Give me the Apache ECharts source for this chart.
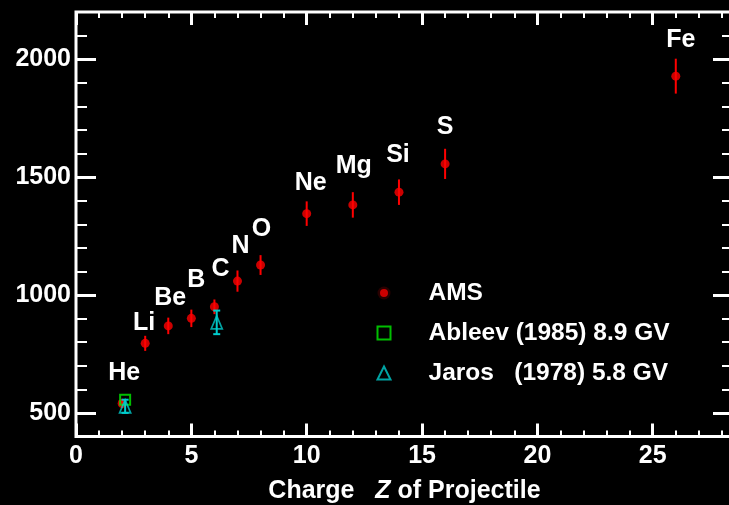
<!DOCTYPE html>
<html>
<head>
<meta charset="utf-8">
<script src="https://cdn.jsdelivr.net/npm/echarts@6/dist/echarts.min.js"></script>
<style>
  html, body { margin: 0; padding: 0; background: #000; }
  #chart { width: 729px; height: 505px; }
</style>
</head>
<body>
<div id="chart"></div>
<script>
// AMS measurements: element, charge Z, value and symmetric error
const elements = ['He', 'Li', 'Be', 'B', 'C', 'N', 'O', 'Ne', 'Mg', 'Si', 'S', 'Fe'];
const amsZ     = [2, 3, 4, 5, 6, 7, 8, 10, 12, 14, 16, 26];
const amsValue = [540, 795, 869, 901, 950, 1059, 1127, 1345, 1382, 1436, 1556, 1928];
const amsError = [20, 32, 35, 37, 31, 45, 42, 52, 54, 54, 64, 74];

// Ableev (1985) 8.9 GV
const ableevZ     = [2.13];
const ableevValue = [556];

// Jaros (1978) 5.8 GV
const jarosZ     = [2.13, 6.1];
const jarosValue = [528, 884];
const jarosError = [28, 50];

// Axis ticks
const yMajorTicks = [500, 1000, 1500, 2000];

const seriesNames = ['AMS', 'Ableev (1985) 8.9 GV', 'Jaros   (1978) 5.8 GV'];

// Pixel offsets of element names from their points
const nameOffsets = [[2, -30], [-1, -20], [2, -28], [5, -38], [6, -38], [3, -35],
                     [1, -36], [4, -31], [1, -39], [-1, -37], [0, -37], [5, -36]];

const FONT = '"Liberation Sans", Arial, Helvetica, sans-serif';
const WHITE = '#ffffff';
const RED = '#ff0000';
const GREEN = '#00ee00';
const CYAN = '#00cccc';

const X_MAX = 28.48;
const Y_MIN = 400, Y_MAX = 2200;

function xAxisDef(position, interval, tickLen, tickWidth, withLabels) {
  const ax = {
    type: 'value', position: position, min: 0, max: X_MAX, interval: interval,
    axisLine: { show: false, onZero: false },
    axisTick: { show: true, inside: true, length: tickLen, lineStyle: { color: WHITE, width: tickWidth } },
    axisLabel: { show: false },
    splitLine: { show: false }
  };
  if (withLabels) {
    ax.axisLabel = {
      show: true, color: WHITE, fontFamily: FONT, fontWeight: 'bold', fontSize: 25,
      margin: 7, showMaxLabel: false,
      formatter: function (v) { return String(v); }
    };
    ax.name = '{a|Charge   }{z|Z}{a| of Projectile}';
    ax.nameLocation = 'middle';
    ax.nameGap = 42;
    ax.nameTextStyle = {
      rich: {
        a: { color: WHITE, fontFamily: FONT, fontWeight: 'bold', fontSize: 25 },
        z: { color: WHITE, fontFamily: FONT, fontWeight: 'bold', fontStyle: 'italic', fontSize: 25 }
      }
    };
  }
  return ax;
}

function yAxisDef(position, major, withLabels) {
  const ax = {
    type: 'value', position: position, min: Y_MIN, max: Y_MAX,
    axisLine: { show: false, onZero: false },
    axisLabel: { show: false },
    splitLine: { show: false }
  };
  if (major) {
    ax.axisTick = { show: true, inside: true, length: 20, customValues: yMajorTicks,
                    lineStyle: { color: WHITE, width: 3 } };
    if (withLabels) {
      ax.axisLabel = { show: true, customValues: yMajorTicks, color: WHITE, fontFamily: FONT,
                       fontWeight: 'bold', fontSize: 25, margin: 5, padding: [4, 0, 0, 0],
                       formatter: function (v) { return String(v); } };
    }
  } else {
    ax.interval = 100;
    ax.axisTick = { show: true, inside: true, length: 11, lineStyle: { color: WHITE, width: 2 } };
  }
  return ax;
}

// Vertical error bar drawn in data coordinates, optional end caps
function errorBarRenderer(color, capHalf) {
  return function (params, api) {
    const z = api.value(0);
    const lo = api.coord([z, api.value(1)]);
    const hi = api.coord([z, api.value(2)]);
    const children = [{
      type: 'line',
      shape: { x1: lo[0], y1: lo[1], x2: hi[0], y2: hi[1] },
      style: { stroke: color, lineWidth: 2 }
    }];
    if (capHalf > 0) {
      [lo, hi].forEach(function (p) {
        children.push({
          type: 'line',
          shape: { x1: p[0] - capHalf, y1: p[1], x2: p[0] + capHalf, y2: p[1] },
          style: { stroke: color, lineWidth: 2 }
        });
      });
    }
    return { type: 'group', children: children };
  };
}

const amsPoints = amsZ.map(function (z, i) {
  return {
    value: [z, amsValue[i]],
    label: { offset: nameOffsets[i] }
  };
});
const amsBars = amsZ.map(function (z, i) { return [z, amsValue[i] - amsError[i], amsValue[i] + amsError[i]]; });
const ableevPoints = ableevZ.map(function (z, i) { return [z, ableevValue[i]]; });
const jarosPoints = jarosZ.map(function (z, i) { return [z, jarosValue[i]]; });
const jarosBars = jarosZ.map(function (z, i) { return [z, jarosValue[i] - jarosError[i], jarosValue[i] + jarosError[i]]; });

const chart = echarts.init(document.getElementById('chart'), null, { renderer: 'canvas' });

chart.setOption({
  backgroundColor: '#000000',
  animation: false,
  grid: {
    left: 76, right: -4, top: 12, bottom: 68.5,
    outerBoundsMode: 'none',
    containLabel: false,
    show: true, borderColor: WHITE, borderWidth: 3, backgroundColor: 'transparent'
  },
  xAxis: [
    xAxisDef('bottom', 5, 13, 3, true),
    xAxisDef('bottom', 1, 6, 2, false),
    xAxisDef('top', 5, 13, 3, false),
    xAxisDef('top', 1, 6, 2, false)
  ],
  yAxis: [
    yAxisDef('left', true, true),
    yAxisDef('left', false, false),
    yAxisDef('right', true, false),
    yAxisDef('right', false, false)
  ],
  legend: {
    orient: 'vertical',
    left: 370,
    top: 275,
    itemWidth: 13,
    itemHeight: 13,
    itemGap: 14,
    selectedMode: false,
    textStyle: {
      color: WHITE, fontFamily: FONT, fontWeight: 'bold', fontSize: 24.5,
      lineHeight: 26, padding: [0, 0, 0, 33]
    },
    data: [
      { name: seriesNames[0], itemStyle: { borderColor: '#000000', borderWidth: 5 } },
      { name: seriesNames[1] },
      { name: seriesNames[2] }
    ]
  },
  series: [
    {
      name: 'AMS errors',
      type: 'custom',
      z: 2,
      renderItem: errorBarRenderer(RED, 0),
      encode: { x: 0, y: [1, 2] },
      data: amsBars,
      silent: true
    },
    {
      name: seriesNames[0],
      type: 'scatter',
      z: 3,
      symbol: 'circle',
      symbolSize: 9,
      itemStyle: { color: RED },
      label: {
        show: true,
        position: 'inside',
        formatter: function (p) { return elements[p.dataIndex]; },
        color: WHITE, fontFamily: FONT, fontWeight: 'bold', fontSize: 25,
        textBorderWidth: 0, textBorderColor: 'transparent', opacity: 1
      },
      data: amsPoints
    },
    {
      name: seriesNames[1],
      type: 'scatter',
      z: 4,
      symbol: 'rect',
      symbolSize: 10,
      itemStyle: { color: 'rgba(0,0,0,0)', borderColor: GREEN, borderWidth: 2 },
      data: ableevPoints
    },
    {
      name: 'Jaros errors',
      type: 'custom',
      z: 5,
      renderItem: errorBarRenderer(CYAN, 3.5),
      encode: { x: 0, y: [1, 2] },
      data: jarosBars,
      silent: true
    },
    {
      name: seriesNames[2],
      type: 'scatter',
      z: 6,
      symbol: 'triangle',
      symbolSize: [11, 13],
      itemStyle: { color: 'rgba(0,0,0,0)', borderColor: CYAN, borderWidth: 1.8 },
      data: jarosPoints
    }
  ]
});
</script>
</body>
</html>
